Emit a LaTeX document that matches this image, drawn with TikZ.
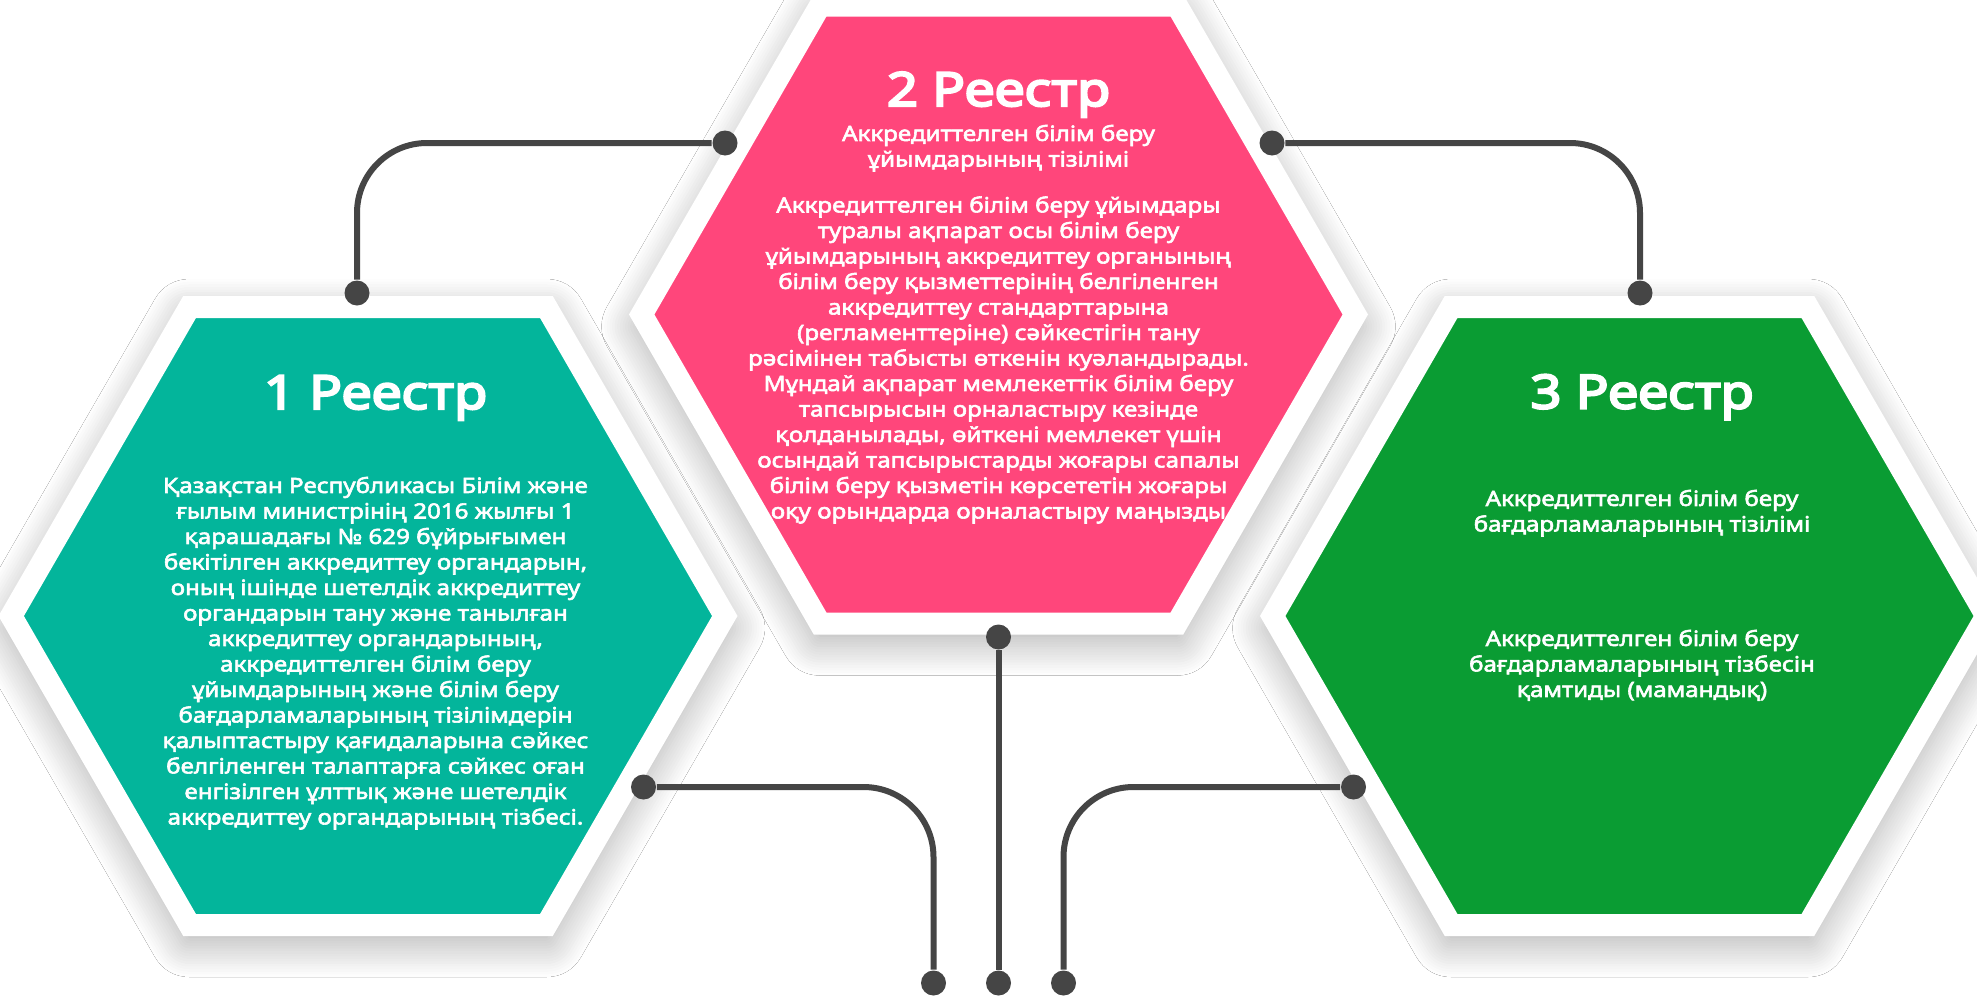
\documentclass[tikz,border=0pt]{standalone}
\usepackage{fontspec}
\setmainfont{Noto Sans}[FakeStretch=1.15, AutoFakeBold=2.8]
\newfontfamily\headfont{Noto Sans}[FakeStretch=1.16, FakeBold=4.5]
\usetikzlibrary{positioning,calc,shapes.geometric,shadows.blur}
\definecolor{tealhex}{HTML}{03B59B}
\definecolor{pinkhex}{HTML}{FF467B}
\definecolor{greenhex}{HTML}{0A9C33}
\definecolor{linkgray}{HTML}{454545}

\begin{document}
\begin{tikzpicture}[x=0.5pt, y=-0.5pt, thick]
% Definition of blocks:
\tikzset{%
  hexa/.style  = {regular polygon, regular polygon sides=6, minimum size=356.8pt, inner sep=0pt, outer sep=0pt,
                  draw=white, line width=11pt,
                  blur shadow={shadow blur radius=20pt, shadow blur steps=16, shadow yshift=-6pt, shadow xshift=0pt, shadow opacity=40}},
  title/.style = {text=white, anchor=base, inner sep=0pt, font=\fontsize{23.5}{28}\selectfont\headfont},
  body/.style  = {text=white, anchor=north, align=center, inner sep=0pt, font=\fontsize{10.5}{12.75}\selectfont\bfseries},
  dot/.style   = {circle, fill=linkgray, inner sep=0pt, minimum size=12.5pt}, % End point
  link/.style  = {draw=linkgray, line width=3pt, rounded corners=35pt} % Connector
}
\fill[white] (0,0) rectangle (1977,996);
\useasboundingbox (0,0) rectangle (1977,996);
\draw
	node [hexa, fill=tealhex] (R1) at (368,616) {}
	node [hexa, fill=pinkhex] (R2) at (998.5,314.5) {}
	node [hexa, fill=greenhex] (R3) at (1629.5,616) {};

\draw
	node [dot] (up1) at (357,293) {}
	node [dot] (up2) at (725,143) {}
	node [dot] (up3) at (1272,143) {}
	node [dot] (up4) at (1640,293) {}
	node [dot] (mid1) at (998.5,637) {}
	node [dot] (mid2) at (998.5,983) {}
	node [dot] (lo1) at (643.5,787) {}
	node [dot] (lo2) at (933.5,983) {}
	node [dot] (lo3) at (1353.5,787) {}
	node [dot] (lo4) at (1063.5,983) {};

	\draw[link] (up1) |- (up2);
	\draw[link] (up3) -| (up4);
	\draw[link] (mid1) -- (mid2);
	\draw[link] (lo1) -| (lo2);
	\draw[link] (lo3) -| (lo4);

\node [title] (T1) at (375.5,409) {1 Реестр};
\node [title] (T2) at (998.5,106) {2 Реестр};
\node [title] (T3) at (1642,408.5) {3 Реестр};

\node [body] (B1) at (375.5,476) {Қазақстан Республикасы Білім және\\
ғылым министрінің 2016 жылғы 1\\
қарашадағы № 629 бұйрығымен\\
бекітілген аккредиттеу органдарын,\\
оның ішінде шетелдік аккредиттеу\\
органдарын тану және танылған\\
аккредиттеу органдарының,\\
аккредиттелген білім беру\\
ұйымдарының және білім беру\\
бағдарламаларының тізілімдерін\\
қалыптастыру қағидаларына сәйкес\\
белгіленген талаптарға сәйкес оған\\
енгізілген ұлттық және шетелдік\\
аккредиттеу органдарының тізбесі.};

\node [body] (S2) at (998.5,124) {Аккредиттелген білім беру\\
ұйымдарының тізілімі};
\begin{scope}
\clip ($(R2)+(0:343.5)$) -- ($(R2)+(60:343.5)$) -- ($(R2)+(120:343.5)$) -- ($(R2)+(180:343.5)$) -- ($(R2)+(240:343.5)$) -- ($(R2)+(300:343.5)$) -- cycle;
\node [body] (B2) at (998.5,195.5) {Аккредиттелген білім беру ұйымдары\\
туралы ақпарат осы білім беру\\
ұйымдарының аккредиттеу органының\\
білім беру қызметтерінің белгіленген\\
аккредиттеу стандарттарына\\
(регламенттеріне) сәйкестігін тану\\
рәсімінен табысты өткенін куәландырады.\\
Мұндай ақпарат мемлекеттік білім беру\\
тапсырысын орналастыру кезінде\\
қолданылады, өйткені мемлекет үшін\\
осындай тапсырыстарды жоғары сапалы\\
білім беру қызметін көрсететін жоғары\\
оқу орындарда орналастыру маңызды};
\end{scope}

\node [body] (S3) at (1642,489) {Аккредиттелген білім беру\\
бағдарламаларының тізілімі};
\node [body] (B3) at (1642,629) {Аккредиттелген білім беру\\
бағдарламаларының тізбесін\\
қамтиды (мамандық)};
	%
\end{tikzpicture}
\end{document}
